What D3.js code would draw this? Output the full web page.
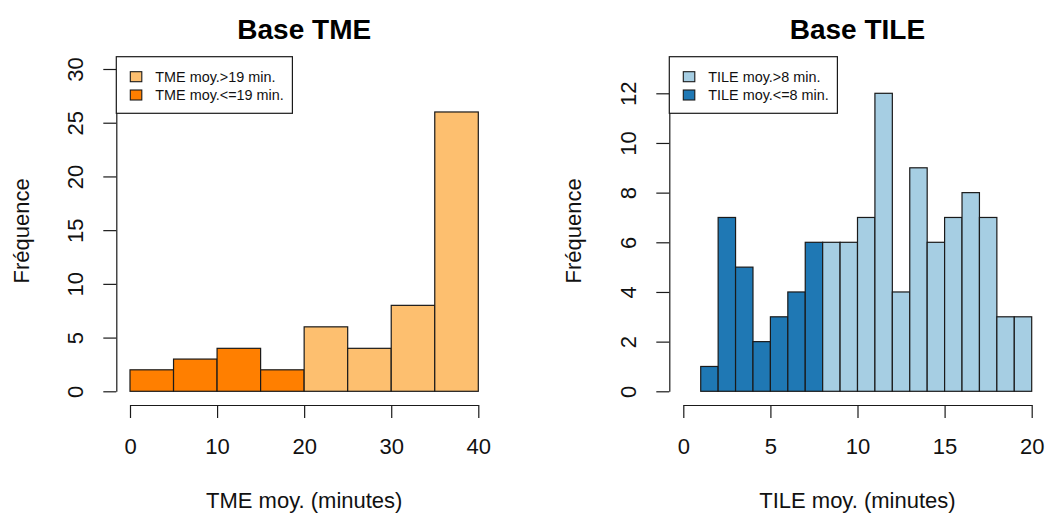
<!DOCTYPE html>
<html>
<head>
<meta charset="utf-8">
<script src="https://cdn.jsdelivr.net/npm/d3@7"></script>
<style>
  html, body { margin: 0; padding: 0; background: #fff; }
  svg { display: block; font-family: "Liberation Sans", Arial, sans-serif; }
</style>
</head>
<body>
<svg id="chart" width="1045" height="513"></svg>
<script>
// TME histogram: 5-minute classes
const tmeBreaks = [0, 5, 10, 15, 20, 25, 30, 35, 40];
const tmeCounts = [2, 3, 4, 2, 6, 4, 8, 26];
const tmeXTicks = [0, 10, 20, 30, 40];
const tmeYTicks = [0, 5, 10, 15, 20, 25, 30];
const tmeThreshold = 19;
const tmeLegend = ["TME moy.>19 min.", "TME moy.<=19 min."];

// TILE histogram: 1-minute classes
const tileBreaks = [1, 2, 3, 4, 5, 6, 7, 8, 9, 10, 11, 12, 13, 14, 15, 16, 17, 18, 19, 20];
const tileCounts = [1, 7, 5, 2, 3, 4, 6, 6, 6, 7, 12, 4, 9, 6, 7, 8, 7, 3, 3];
const tileXTicks = [0, 5, 10, 15, 20];
const tileYTicks = [0, 2, 4, 6, 8, 10, 12];
const tileThreshold = 8;
const tileLegend = ["TILE moy.>8 min.", "TILE moy.<=8 min."];

const svg = d3.select("#chart");
svg.append("rect").attr("width", 1045).attr("height", 513).attr("fill", "#fff");

const INK = "#1a1a1a";
const AXIS_FONT = "22px";

function panel(cfg) {
  const g = svg.append("g");
  const x = d3.scaleLinear().domain(cfg.xDomain).range(cfg.xRange);
  const y = d3.scaleLinear().domain(cfg.yDomain).range(cfg.yRange);

  const bins = cfg.counts.map((c, i) => ({ x0: cfg.breaks[i], x1: cfg.breaks[i + 1], n: c }));

  // bars
  g.selectAll("rect.bar").data(bins).join("rect")
    .attr("class", "bar")
    .attr("x", d => x(d.x0))
    .attr("width", d => x(d.x1) - x(d.x0))
    .attr("y", d => y(d.n))
    .attr("height", d => y(0) - y(d.n))
    .attr("fill", d => ((d.x0 + d.x1) / 2 <= cfg.threshold ? cfg.dark : cfg.light))
    .attr("stroke", INK)
    .attr("stroke-width", 1.2);

  // y axis (rotated labels)
  const ya = g.append("g")
    .attr("transform", `translate(${cfg.plotLeft},0)`)
    .call(d3.axisLeft(y).tickValues(cfg.yTicks).tickSize(13).tickSizeOuter(0).tickFormat(d3.format("d")));
  ya.select(".domain").attr("stroke", INK).attr("stroke-width", 1.2);
  ya.selectAll(".tick line").attr("stroke", INK).attr("stroke-width", 1.2);
  ya.selectAll(".tick text")
    .attr("x", null).attr("dy", null)
    .attr("transform", "translate(-33,0) rotate(-90)")
    .attr("text-anchor", "middle")
    .attr("fill", "#111")
    .style("font-size", AXIS_FONT)
    .style("font-family", "'Liberation Sans', Arial, sans-serif");

  // x axis
  const xa = g.append("g")
    .attr("transform", `translate(0,${cfg.plotBottom})`)
    .call(d3.axisBottom(x).tickValues(cfg.xTicks).tickSize(13).tickSizeOuter(0).tickFormat(d3.format("d")));
  xa.select(".domain").attr("stroke", INK).attr("stroke-width", 1.2);
  xa.selectAll(".tick line").attr("stroke", INK).attr("stroke-width", 1.2);
  xa.selectAll(".tick text")
    .attr("y", 49.3).attr("dy", null)
    .attr("fill", "#111")
    .style("font-size", AXIS_FONT)
    .style("font-family", "'Liberation Sans', Arial, sans-serif");

  const cx = (cfg.plotLeft + cfg.plotRight) / 2;

  // title
  g.append("text")
    .attr("x", cx).attr("y", 39)
    .attr("text-anchor", "middle")
    .style("font-size", "28px").style("font-weight", "bold")
    .attr("fill", "#000")
    .text(cfg.title);

  // axis titles
  g.append("text")
    .attr("x", cx).attr("y", 508)
    .attr("text-anchor", "middle")
    .style("font-size", AXIS_FONT)
    .attr("fill", "#111")
    .text(cfg.xLabel);

  g.append("text")
    .attr("transform", `translate(${cfg.yLabelX},${(cfg.plotTop + cfg.plotBottom) / 2}) rotate(-90)`)
    .attr("text-anchor", "middle")
    .style("font-size", AXIS_FONT)
    .attr("fill", "#111")
    .text("Fréquence");

  // legend in the top-left corner of the plot region
  const lg = g.append("g").attr("transform", `translate(${cfg.plotLeft},${cfg.plotTop})`);
  const box = lg.append("rect")
    .attr("x", 0).attr("y", 0).attr("height", 56.6)
    .attr("fill", "#fff").attr("stroke", INK).attr("stroke-width", 1.2);
  const items = [cfg.light, cfg.dark];
  let maxW = 0;
  items.forEach((col, i) => {
    lg.append("rect")
      .attr("x", 14).attr("y", 15 + i * 18.3)
      .attr("width", 11.5).attr("height", 10)
      .attr("fill", col).attr("stroke", INK).attr("stroke-width", 1.1);
    const t = lg.append("text")
      .attr("x", 39).attr("y", 25 + i * 18.3)
      .style("font-size", "14.4px")
      .attr("fill", "#111")
      .text(cfg.legend[i]);
    maxW = Math.max(maxW, t.node().getComputedTextLength());
  });
  box.attr("width", 39 + maxW + 8.6);
}

panel({
  breaks: tmeBreaks, counts: tmeCounts, threshold: tmeThreshold,
  xDomain: [0, 40], xRange: [130, 478.3],
  yDomain: [0, 30], yRange: [391.3, 69],
  xTicks: tmeXTicks, yTicks: tmeYTicks,
  plotLeft: 116.3, plotRight: 492.2, plotTop: 56.7, plotBottom: 405,
  dark: "#FF7F00", light: "#FDBF6F",
  title: "Base TME", xLabel: "TME moy. (minutes)", yLabelX: 29,
  legend: tmeLegend
});

panel({
  breaks: tileBreaks, counts: tileCounts, threshold: tileThreshold,
  xDomain: [0, 20], xRange: [683.3, 1031.7],
  yDomain: [0, 12], yRange: [391.3, 93.3],
  xTicks: tileXTicks, yTicks: tileYTicks,
  plotLeft: 669.3, plotRight: 1045.6, plotTop: 56.7, plotBottom: 405,
  dark: "#1F78B4", light: "#A6CEE3",
  title: "Base TILE", xLabel: "TILE moy. (minutes)", yLabelX: 581,
  legend: tileLegend
});
</script>
</body>
</html>
